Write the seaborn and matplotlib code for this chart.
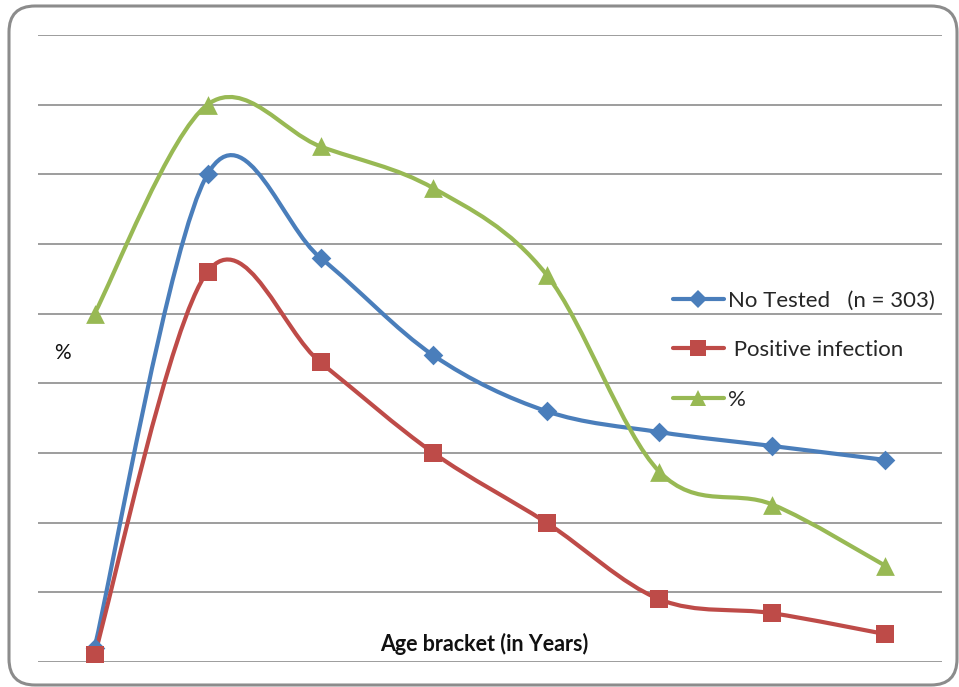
import numpy as np
import matplotlib
matplotlib.use("Agg")
import matplotlib.pyplot as plt
import seaborn as sns
from matplotlib.path import Path
from matplotlib.patches import PathPatch, FancyBboxPatch
from matplotlib.lines import Line2D
from matplotlib.transforms import IdentityTransform

# data: age brackets (categories only, no labels shown on the chart)
age_pos = [0, 1, 2, 3, 4, 5, 6, 7]
no_tested = [2, 70, 58, 44, 36, 33, 31, 29]
positive = [1, 56, 43, 30, 20, 9, 7, 4]
percent = [50, 80, 74, 68, 55.6, 27.3, 22.6, 13.8]

labels = ["No Tested   (n = 303)", " Positive infection", "%"]
colors = ["#4A7EBB", "#BE4B48", "#98B954"]
markers = ["D", "s", "^"]
msizes = [10, 13, 13.5]

sns.set_theme(style="white")
plt.rcParams["font.family"] = ["Lato", "DejaVu Sans"]

W, H = 959, 687
fig = plt.figure(figsize=(W / 100, H / 100), dpi=100)
ax = fig.add_axes([38 / W, (H - 662) / H, 904 / W, 627 / H])

# rounded chart border (pixel coordinates, kept inside the canvas)
border = FancyBboxPatch((9, 2), 948, 679,
                        boxstyle="round,pad=0,rounding_size=26",
                        transform=IdentityTransform(), fill=False,
                        edgecolor="#8C8C8C", linewidth=2.2)
fig.patches.append(border)


def smooth_path(xs, ys):
    # Excel-like smoothed line: cubic bezier segments (Catmull-Rom control points)
    p = np.column_stack([xs, ys]).astype(float)
    ext = np.vstack([p[0], p, p[-1]])
    verts = [p[0]]
    codes = [Path.MOVETO]
    for i in range(len(p) - 1):
        p0, p1, p2, p3 = ext[i], ext[i + 1], ext[i + 2], ext[i + 3]
        c1 = p1 + (p2 - p0) / 6
        c2 = p2 - (p3 - p1) / 6
        verts += [c1, c2, p2]
        codes += [Path.CURVE4] * 3
    return Path(verts, codes)


series = [no_tested, positive, percent]
handles = []
for vals, lab, col, mk, ms in zip(series, labels, colors, markers, msizes):
    ax.add_patch(PathPatch(smooth_path(age_pos, vals), fill=False,
                           edgecolor=col, linewidth=3, zorder=3,
                           capstyle="round", joinstyle="round"))
    sns.scatterplot(x=age_pos, y=vals, ax=ax, marker=mk, s=ms ** 2,
                    color=col, edgecolor=col, linewidth=0, zorder=4,
                    legend=False)
    handles.append(Line2D([0], [0], color=col, lw=3, marker=mk,
                          markersize=ms * 0.9, markeredgewidth=0))

ax.set_xlim(-0.5, 7.5)
ax.set_ylim(0, 90)
ax.set_yticks(np.arange(0, 91, 10))
ax.set_xticks([])
ax.set_yticklabels([])
ax.grid(axis="y", color="#8C8C8C", linewidth=1.2)
for s in ax.spines.values():
    s.set_visible(False)
ax.tick_params(left=False, bottom=False)
ax.set_xlabel("")
ax.set_ylabel("")

ax.text(3.45, 2.6, "Age bracket (in Years)", ha="center", va="center",
        fontsize=15.5, fontweight="bold", color="#111111", zorder=5)
fig.text(62 / W, 1 - 353 / H, "%", ha="center", va="center",
         fontsize=15, color="#111111")

leg = ax.legend(handles=handles, labels=labels, loc="upper left",
                bbox_to_anchor=(626 / 904, (662 - 282) / 627),
                frameon=False, fontsize=16, handlelength=2.3,
                handletextpad=0.2, labelspacing=1.32, borderaxespad=0)

fig.savefig("out.png", dpi=100)
